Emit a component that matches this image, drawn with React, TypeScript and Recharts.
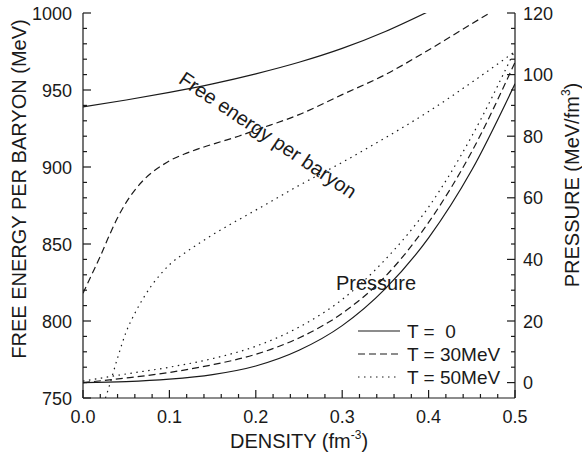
import React from "react";
import { LineChart, Line, XAxis, YAxis, Legend } from "recharts";

const INK = "#1a1a1a";
const FONT = "'Liberation Sans', Arial, sans-serif";

// axis ticks
const X_TICKS = [0, 0.02, 0.04, 0.06, 0.08, 0.1, 0.12, 0.14, 0.16, 0.18, 0.2, 0.22, 0.24, 0.26, 0.28, 0.3, 0.32, 0.34, 0.36, 0.38, 0.4, 0.42, 0.44, 0.46, 0.48, 0.5];
const X_MAJOR = [0, 0.1, 0.2, 0.3, 0.4, 0.5];
const LEFT_TICKS = [750, 760, 770, 780, 790, 800, 810, 820, 830, 840, 850, 860, 870, 880, 890, 900, 910, 920, 930, 940, 950, 960, 970, 980, 990, 1000];
const LEFT_MAJOR = [750, 800, 850, 900, 950, 1000];
const RIGHT_TICKS = [0, 5, 10, 15, 20, 25, 30, 35, 40, 45, 50, 55, 60, 65, 70, 75, 80, 85, 90, 95, 100, 105, 110, 115, 120];
const RIGHT_MAJOR = [0, 20, 40, 60, 80, 100, 120];

// free energy per baryon (MeV)
const FE_T0_X = [0, 0.05, 0.1, 0.15, 0.2, 0.25, 0.3, 0.35, 0.4];
const FE_T0_Y = [939, 943.5, 948.5, 954, 960.5, 968, 977, 988, 1001];
const FE_T30_X = [0, 0.01, 0.02, 0.03, 0.04, 0.05, 0.06, 0.07, 0.08, 0.09, 0.1, 0.12, 0.14, 0.16, 0.18, 0.2, 0.25, 0.3, 0.35, 0.4, 0.45, 0.5];
const FE_T30_Y = [818, 830, 842, 855, 867, 877, 885, 891.5, 896.5, 900.5, 904, 909, 913, 916.5, 920, 924, 934, 947, 960, 976, 993, 1010];
const FE_T50_X = [0.026, 0.03, 0.04, 0.05, 0.06, 0.07, 0.08, 0.09, 0.1, 0.12, 0.15, 0.2, 0.25, 0.3, 0.35, 0.4, 0.45, 0.5];
const FE_T50_Y = [750, 757, 776, 793, 805, 815, 823.5, 830.5, 836.5, 845, 856, 872, 888, 903, 919, 936, 955, 975];

// pressure (MeV/fm^3)
const P_X = [0, 0.05, 0.1, 0.15, 0.2, 0.25, 0.3, 0.35, 0.4, 0.45, 0.5];
const P_T0 = [0, 0.3, 1.1, 2.6, 5.4, 10.5, 18.5, 30.5, 47, 69, 97];
const P_T30 = [0, 1.5, 3.3, 5.8, 9.2, 14.5, 22.5, 34.5, 52, 75, 104];
const P_T50 = [0.5, 2.8, 5, 7.8, 11.8, 18, 27, 40, 57, 80, 108];

const LEGEND = [
  { label: "T =  0", dash: undefined },
  { label: "T = 30MeV", dash: "7 4" },
  { label: "T = 50MeV", dash: "1.5 4.5" },
];

const zip = (xs: number[], ys: number[]) => xs.map((x, i) => ({ x, y: ys[i] }));
const isMajor = (v: number, majors: number[]) => majors.some((m) => Math.abs(m - v) < 1e-9);

function BottomTick({ x, y, payload }: any) {
  const major = isMajor(payload.value, X_MAJOR);
  return (
    <g>
      <line x1={x} x2={x} y1={y} y2={y - (major ? 8 : 4)} stroke={INK} strokeWidth={1.2} />
      {major && (
        <text x={x} y={y + 25} textAnchor="middle" fontSize={18} fontFamily={FONT} fill={INK}>
          {payload.value.toFixed(1)}
        </text>
      )}
    </g>
  );
}

function TopTick({ x, y, payload }: any) {
  const major = isMajor(payload.value, X_MAJOR);
  return <line x1={x} x2={x} y1={y} y2={y + (major ? 8 : 4)} stroke={INK} strokeWidth={1.2} />;
}

function LeftTick({ x, y, payload }: any) {
  const major = isMajor(payload.value, LEFT_MAJOR);
  return (
    <g>
      <line x1={x} x2={x + (major ? 8 : 4)} y1={y} y2={y} stroke={INK} strokeWidth={1.2} />
      {major && (
        <text x={x - 11} y={y + 6.5} textAnchor="end" fontSize={18} fontFamily={FONT} fill={INK}>
          {payload.value}
        </text>
      )}
    </g>
  );
}

function RightTick({ x, y, payload }: any) {
  const major = isMajor(payload.value, RIGHT_MAJOR);
  return (
    <g>
      <line x1={x} x2={x - (major ? 8 : 4)} y1={y} y2={y} stroke={INK} strokeWidth={1.2} />
      {major && (
        <text x={x + 8} y={y + 6.5} textAnchor="start" fontSize={18} fontFamily={FONT} fill={INK}>
          {payload.value}
        </text>
      )}
    </g>
  );
}

function LegendBox() {
  return (
    <svg width={170} height={72}>
      {LEGEND.map((item, i) => (
        <g key={item.label}>
          <line x1={8} x2={50} y1={13 + i * 23} y2={13 + i * 23} stroke={INK} strokeWidth={1.2} strokeDasharray={item.dash} />
          <text x={57} y={13 + i * 23 + 6.5} fontSize={19} fontFamily={FONT} fill={INK} style={{ whiteSpace: "pre" }}>
            {item.label}
          </text>
        </g>
      ))}
    </svg>
  );
}

export default function App() {
  const axisLine = { stroke: INK, strokeWidth: 1.2 };
  return (
    <div style={{ position: "relative", width: 582, height: 457 }}>
      <style>{"body{margin:0}"}</style>
      <LineChart width={582} height={457} margin={{ top: 13, right: 22, bottom: 29, left: 23 }}>
        <XAxis xAxisId="b" type="number" dataKey="x" domain={[0, 0.5]} allowDataOverflow ticks={X_TICKS} interval={0}
          height={30} tickSize={0} tickMargin={0} tickLine={false} axisLine={axisLine} tick={<BottomTick />} />
        <XAxis xAxisId="t" orientation="top" type="number" dataKey="x" domain={[0, 0.5]} allowDataOverflow ticks={X_TICKS} interval={0}
          height={0} tickSize={0} tickMargin={0} tickLine={false} axisLine={axisLine} tick={<TopTick />} />
        <YAxis yAxisId="l" type="number" domain={[750, 1000]} allowDataOverflow ticks={LEFT_TICKS} interval={0}
          width={60} tickSize={0} tickMargin={0} tickLine={false} axisLine={axisLine} tick={<LeftTick />} />
        <YAxis yAxisId="r" orientation="right" type="number" domain={[-5, 120]} allowDataOverflow ticks={RIGHT_TICKS} interval={0}
          width={45} tickSize={0} tickMargin={0} tickLine={false} axisLine={axisLine} tick={<RightTick />} />

        <Line xAxisId="b" yAxisId="l" data={zip(FE_T0_X, FE_T0_Y)} dataKey="y" type="monotone" stroke={INK} strokeWidth={1.2} dot={false} isAnimationActive={false} />
        <Line xAxisId="b" yAxisId="l" data={zip(FE_T30_X, FE_T30_Y)} dataKey="y" type="monotone" stroke={INK} strokeWidth={1.2} strokeDasharray="7 4" dot={false} isAnimationActive={false} />
        <Line xAxisId="b" yAxisId="l" data={zip(FE_T50_X, FE_T50_Y)} dataKey="y" type="monotone" stroke={INK} strokeWidth={1.2} strokeDasharray="1.5 4.5" dot={false} isAnimationActive={false} />
        <Line xAxisId="b" yAxisId="r" data={zip(P_X, P_T0)} dataKey="y" type="monotone" stroke={INK} strokeWidth={1.2} dot={false} isAnimationActive={false} />
        <Line xAxisId="b" yAxisId="r" data={zip(P_X, P_T30)} dataKey="y" type="monotone" stroke={INK} strokeWidth={1.2} strokeDasharray="7 4" dot={false} isAnimationActive={false} />
        <Line xAxisId="b" yAxisId="r" data={zip(P_X, P_T50)} dataKey="y" type="monotone" stroke={INK} strokeWidth={1.2} strokeDasharray="1.5 4.5" dot={false} isAnimationActive={false} />

        <Legend layout="vertical" align="center" verticalAlign="middle" content={<LegendBox />}
          wrapperStyle={{ left: 350, top: 318, width: 170, height: 72 }} />
      </LineChart>

      <svg width={582} height={457} style={{ position: "absolute", left: 0, top: 0, pointerEvents: "none" }}
        fontFamily={FONT} fill={INK}>
        <text transform="rotate(-90, 26, 189)" x={26} y={189} textAnchor="middle" fontSize={20}>
          FREE ENERGY PER BARYON (MeV)
        </text>
        <text x={299} y={448} textAnchor="middle" fontSize={20}>
          DENSITY (fm<tspan fontSize={12} dy={-9}>-3</tspan><tspan dy={9}>)</tspan>
        </text>
        <text transform="rotate(-90, 579, 185)" x={579} y={185} textAnchor="middle" fontSize={20}>
          PRESSURE (MeV/fm<tspan fontSize={12} dy={-9}>3</tspan><tspan dy={9}>)</tspan>
        </text>
        <text transform="rotate(34, 268, 135)" x={268} y={142} textAnchor="middle" fontSize={20}>
          Free energy per baryon
        </text>
        <text x={336} y={290} fontSize={20}>Pressure</text>
      </svg>
    </div>
  );
}
